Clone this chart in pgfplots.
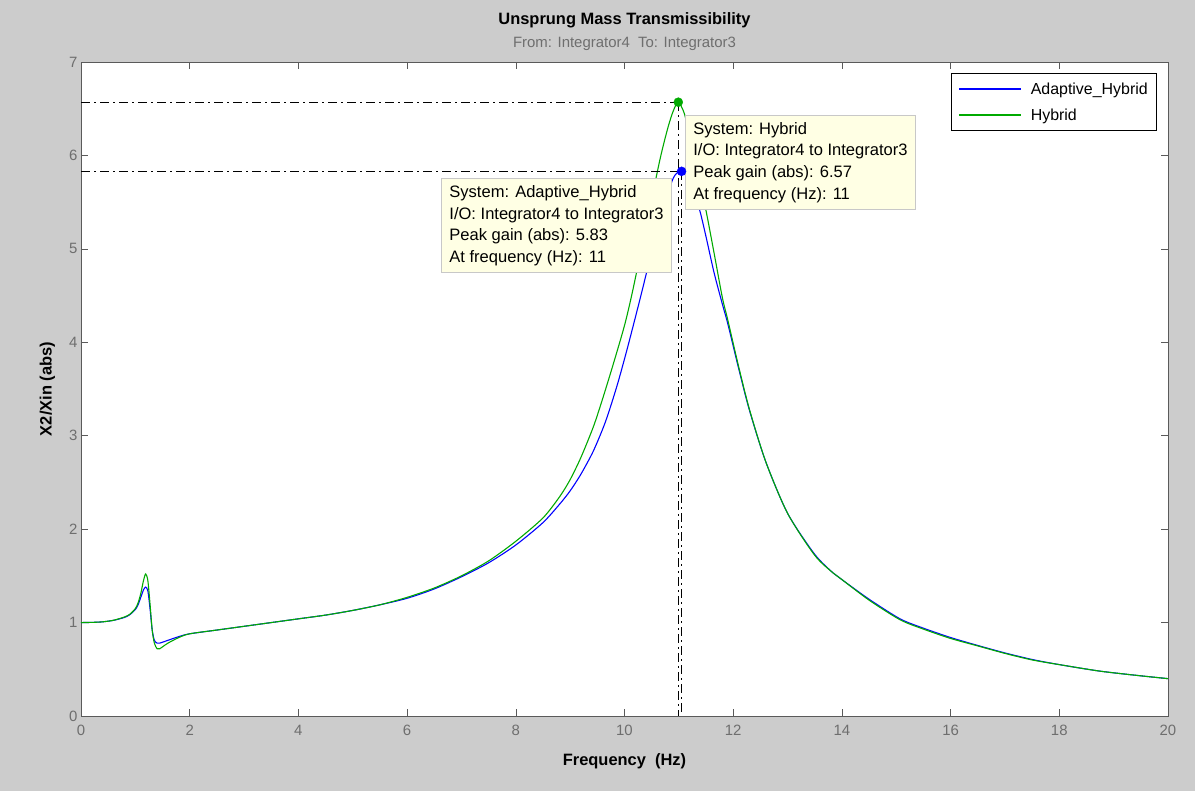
\documentclass[border=0pt]{standalone}
\usepackage{pgfplots}
\pgfplotsset{compat=1.18}
\usepackage{fontspec}
\setmainfont{Liberation Sans}
\definecolor{figgray}{RGB}{204,204,204}
\definecolor{mblue}{RGB}{0,0,255}
\definecolor{mgreen}{RGB}{0,170,0}
\definecolor{tipfill}{RGB}{255,255,228}
\definecolor{tipedge}{RGB}{200,200,200}
\definecolor{tickgray}{RGB}{110,110,110}
\definecolor{axgray}{RGB}{90,90,90}
\begin{document}
\begin{tikzpicture}
\fill[figgray] (-81bp,-75bp) rectangle (1114bp,716bp);
\begin{axis}[
  at={(0,0)}, anchor=south west,
  scale only axis, width=1087bp, height=654bp,
  xmin=0, xmax=20, ymin=0, ymax=7,
  xtick distance=2, ytick distance=1,
  tick align=inside, tick pos=both,
  major tick length=7bp,
  every tick/.style={axgray, line width=0.6pt},
  axis line style={axgray, line width=0.8pt},
  axis background/.style={fill=white},
  /pgf/number format/assume math mode=true,
  ticklabel style={font=\fontsize{15}{18}\selectfont, text=tickgray},
  xticklabel style={yshift=-6bp},
  xlabel={\bfseries Frequency\ \ (Hz)},
  ylabel={\bfseries X2/Xin (abs)},
  xlabel style={font=\fontsize{16.5}{19}\selectfont, at={(axis description cs:0.5,-0.069)}, anchor=center},
  ylabel style={font=\fontsize{16.5}{19}\selectfont, at={(axis description cs:-0.031,0.5)}, anchor=center},
  legend style={at={(axis description cs:0.990,0.983)}, anchor=north east,
    draw=black, line width=0.8pt, fill=white,
    font=\fontsize{16}{19}\selectfont, inner xsep=7bp, inner ysep=7bp,
    row sep=9bp,
    /tikz/every odd column/.append style={column sep=7bp}},
  legend cell align=left,
  legend image code/.code={\draw[#1, line width=1.2pt] (0bp,0bp) -- (62bp,0bp);},
  clip=false,
]
% Adaptive_Hybrid
\addplot[mblue, line width=1.1pt, smooth, tension=0.45] coordinates {
(0,1.000) (0.2,1.002) (0.4,1.008) (0.6,1.024) (0.8,1.055) (0.9,1.085) (1.0,1.14)
(1.05,1.19) (1.1,1.27) (1.15,1.35) (1.19,1.38) (1.23,1.34) (1.27,1.15) (1.31,0.92)
(1.35,0.81) (1.40,0.78) (1.45,0.78) (1.5,0.79) (1.6,0.81) (1.8,0.85) (2.0,0.88)
(2.5,0.92) (3.0,0.96) (3.5,1.00) (4.0,1.04) (4.5,1.08) (5.0,1.13) (5.5,1.19)
(6.0,1.26) (6.5,1.36) (7.0,1.49) (7.5,1.64) (8.0,1.83) (8.5,2.07) (8.81,2.27)
(9.0,2.41) (9.2,2.59) (9.43,2.84) (9.65,3.15) (9.86,3.53) (10.05,3.93) (10.28,4.45)
(10.45,4.85) (10.6,5.2) (10.75,5.52) (10.9,5.76) (11.0,5.83) (11.05,5.84)
(11.15,5.76) (11.3,5.55) (11.39,5.40) (11.5,5.13) (11.65,4.74) (11.8,4.41)
(11.9,4.20) (12.1,3.72) (12.3,3.27) (12.6,2.72) (13.0,2.17) (13.5,1.73)
(13.84,1.53) (14.0,1.46) (14.5,1.25) (15.07,1.04) (15.5,0.94) (16.0,0.84)
(16.5,0.755) (17.0,0.675) (17.5,0.605) (18.0,0.55) (18.75,0.48) (19.5,0.43) (20.0,0.40)
};
\addlegendentry{Adaptive\_Hybrid}
% Hybrid
\addplot[mgreen, line width=1.1pt, smooth, tension=0.45] coordinates {
(0,1.000) (0.2,1.002) (0.4,1.008) (0.6,1.025) (0.8,1.06) (0.9,1.09) (1.0,1.15)
(1.05,1.21) (1.1,1.31) (1.15,1.45) (1.19,1.52) (1.23,1.45) (1.27,1.2) (1.31,0.92)
(1.35,0.78) (1.40,0.72) (1.45,0.72) (1.5,0.74) (1.6,0.78) (1.8,0.84) (2.0,0.88)
(2.5,0.92) (3.0,0.96) (3.5,1.00) (4.0,1.04) (4.5,1.08) (5.0,1.13) (5.5,1.19)
(6.0,1.27) (6.5,1.37) (7.0,1.50) (7.5,1.66) (8.0,1.87) (8.5,2.12) (8.81,2.35)
(9.0,2.53) (9.2,2.77) (9.43,3.10) (9.6,3.40) (9.79,3.76) (10.0,4.18) (10.15,4.55)
(10.4,5.25) (10.65,5.95) (10.8,6.30) (10.9,6.48) (10.99,6.57) (11.1,6.45)
(11.2,6.20) (11.3,5.95) (11.4,5.68) (11.51,5.38) (11.65,4.95) (11.8,4.48)
(11.9,4.24) (12.1,3.74) (12.3,3.28) (12.6,2.72) (13.0,2.17) (13.5,1.72)
(13.84,1.53) (14.0,1.46) (14.5,1.24) (15.07,1.03) (15.5,0.93) (16.0,0.83)
(16.5,0.75) (17.0,0.67) (17.5,0.60) (18.0,0.55) (18.75,0.48) (19.5,0.43) (20.0,0.40)
};
\addlegendentry{Hybrid}
% peak reference lines
\addplot[black, line width=0.9pt, dash pattern=on 9bp off 4bp on 2bp off 4bp, forget plot]
  coordinates {(0,6.57) (10.99,6.57)};
\addplot[black, line width=0.9pt, dash pattern=on 9bp off 4bp on 2bp off 4bp, forget plot]
  coordinates {(0,5.83) (11.05,5.83)};
\addplot[black, line width=0.9pt, dash pattern=on 9bp off 4bp on 2bp off 4bp, forget plot]
  coordinates {(10.99,6.57) (10.99,0)};
\addplot[black, line width=0.9pt, dash pattern=on 9bp off 4bp on 2bp off 4bp, forget plot]
  coordinates {(11.05,5.83) (11.05,0)};
% peak markers
\addplot[only marks, mark=*, mark size=4.5bp, mgreen, forget plot] coordinates {(10.99,6.57)};
\addplot[only marks, mark=*, mark size=4.5bp, mblue, forget plot] coordinates {(11.05,5.83)};
% data tips
\node[fill=tipfill, draw=tipedge, line width=0.8pt, anchor=north west, align=left,
  inner xsep=8bp, inner ysep=7bp, font=\fontsize{16.6}{21.7}\selectfont]
  at (axis cs:11.113,6.433)
  {System: Hybrid\\I/O: Integrator4 to Integrator3\\Peak gain (abs): 6.57\\At frequency (Hz): 11};
\node[fill=tipfill, draw=tipedge, line width=0.8pt, anchor=north west, align=left,
  inner xsep=8bp, inner ysep=7bp, font=\fontsize{16.6}{21.7}\selectfont]
  at (axis cs:6.624,5.758)
  {System: Adaptive\_Hybrid\\I/O: Integrator4 to Integrator3\\Peak gain (abs): 5.83\\At frequency (Hz): 11};
% titles
\node[font=\fontsize{16.5}{19}\bfseries, anchor=center] at ([yshift=42bp]axis description cs:0.5,1) {Unsprung Mass Transmissibility};
\node[font=\fontsize{15}{18}\selectfont, text=tickgray, anchor=center] at ([yshift=18bp]axis description cs:0.5,1) {From: Integrator4\ \ To: Integrator3};
\end{axis}
\end{tikzpicture}
\end{document}
